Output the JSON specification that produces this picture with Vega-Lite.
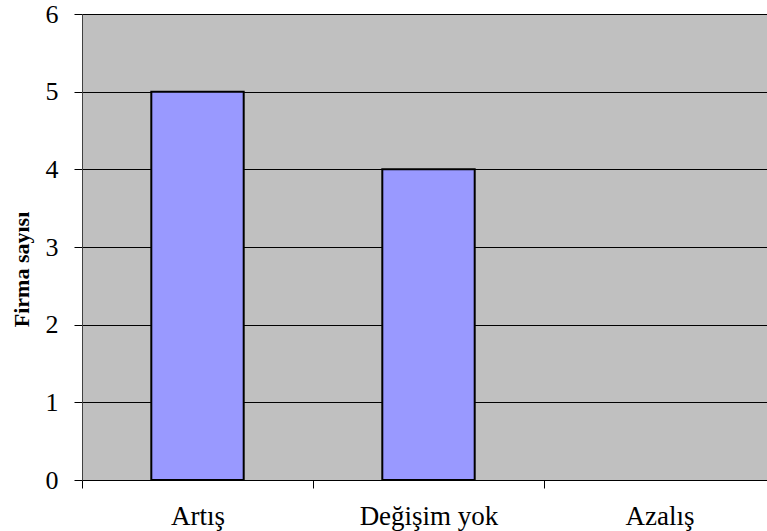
{
  "$schema": "https://vega.github.io/schema/vega-lite/v6.json",
  "width": 685,
  "height": 466,
  "autosize": {"type": "none"},
  "padding": {"left": 82, "top": 14, "right": 0, "bottom": 51},
  "background": "white",
  "config": {
    "view": {"fill": "#C0C0C0", "stroke": "#808080", "strokeWidth": 1},
    "font": "Liberation Serif, serif"
  },
  "data": {
    "values": [
      {"kategori": "Artış", "firma": 5},
      {"kategori": "Değişim yok", "firma": 4},
      {"kategori": "Azalış", "firma": null}
    ]
  },
  "mark": {"type": "bar", "color": "#9999FF", "stroke": "black", "strokeWidth": 2, "width": {"band": 0.4}},
  "encoding": {
    "x": {
      "field": "kategori",
      "type": "nominal",
      "sort": null,
      "scale": {"domain": ["Artış", "Değişim yok", "Azalış"], "range": [0, 693], "paddingInner": 0, "paddingOuter": 0},
      "axis": {
        "title": null,
        "labelAngle": 0,
        "labelFont": "Liberation Serif, serif",
        "labelFontSize": 27,
        "labelColor": "black",
        "labelBaseline": "alphabetic",
        "labelPadding": 36,
        "tickBand": "extent",
        "tickSize": 8,
        "tickColor": "black",
        "domainColor": "black",
        "domainWidth": 1,
        "grid": false
      }
    },
    "y": {
      "field": "firma",
      "type": "quantitative",
      "scale": {"domain": [0, 6], "nice": false},
      "axis": {
        "title": "Firma sayısı",
        "titleFont": "Liberation Serif, serif",
        "titleFontSize": 22,
        "titleFontWeight": "bold",
        "titleColor": "black",
        "titleBaseline": "alphabetic",
        "titleX": -54,
        "titleY": 255,
        "titleAngle": -90,
        "titleAlign": "center",
        "values": [0, 1, 2, 3, 4, 5, 6],
        "labelFont": "Liberation Serif, serif",
        "labelFontSize": 26,
        "labelColor": "black",
        "labelPadding": 16,
        "tickSize": 8,
        "tickColor": "black",
        "domainColor": "#404040",
        "grid": true,
        "gridColor": "black",
        "gridWidth": 1,
        "gridOpacity": 1
      }
    }
  }
}
